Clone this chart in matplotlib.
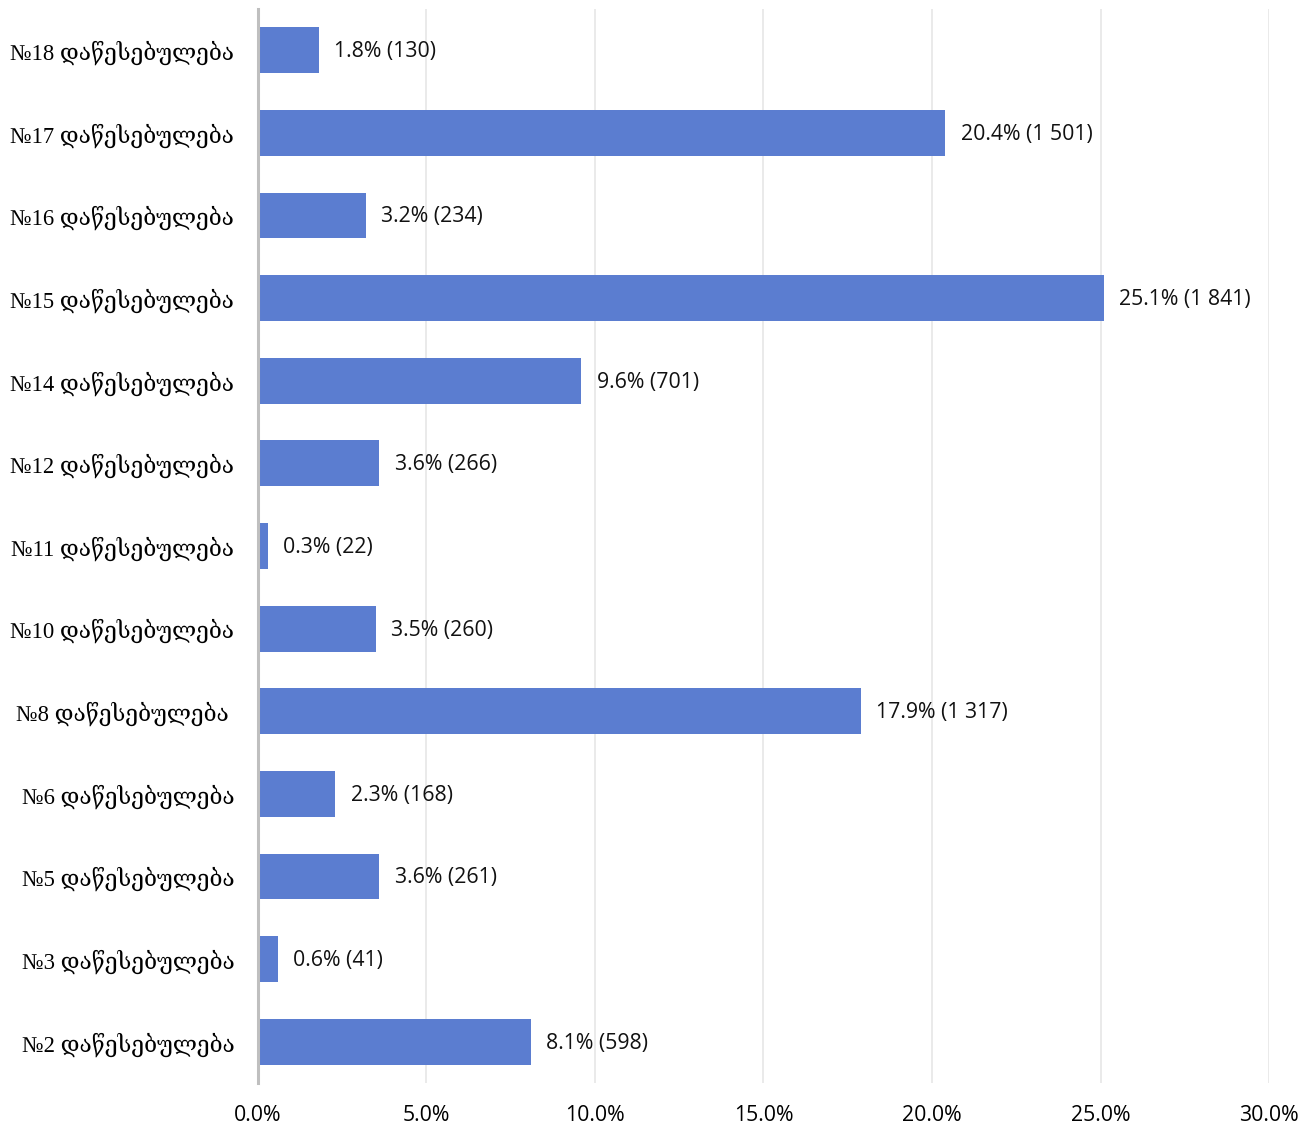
import matplotlib.pyplot as plt

# categories from top to bottom as in the picture
labels = ["№18 დაწესებულება", "№17 დაწესებულება", "№16 დაწესებულება",
          "№15 დაწესებულება", "№14 დაწესებულება", "№12 დაწესებულება",
          "№11 დაწესებულება", "№10 დაწესებულება", "№8 დაწესებულება ",
          "№6 დაწესებულება", "№5 დაწესებულება", "№3 დაწესებულება",
          "№2 დაწესებულება"]
percents = [1.8, 20.4, 3.2, 25.1, 9.6, 3.6, 0.3, 3.5, 17.9, 2.3, 3.6, 0.6, 8.1]
counts = ["130", "1 501", "234", "1 841", "701", "266", "22", "260",
          "1 317", "168", "261", "41", "598"]
xticks = [0, 5, 10, 15, 20, 25, 30]

fig = plt.figure(figsize=(13.16, 11.27), dpi=100)
ax = fig.add_axes([0.196, 0.039, 0.7683, 0.953])

pos = list(range(len(labels)))
ax.barh(pos, percents, height=0.555, color="#5B7DD0", zorder=3)
ax.set_ylim(len(labels) - 0.5, -0.5)
ax.set_xlim(0, 30)

for p, v, c in zip(pos, percents, counts):
    ax.annotate(f"{v:.1f}% ({c})", (v, p), xytext=(11, -1), textcoords="offset points",
                va="center", ha="left", fontsize=15.3, family=["Open Sans"], color="#111111")

ax.set_xticks(xticks)
ax.set_xticklabels([f"{t:.1f}%" for t in xticks], fontsize=15.3, family=["Open Sans"])
ax.set_yticks(pos)
ax.set_yticklabels(labels, fontsize=16.3, family=["Liberation Serif", "DejaVu Serif", "DejaVu Sans"])
ax.tick_params(length=0)
ax.tick_params(axis="x", pad=16)
ax.tick_params(axis="y", pad=17)

ax.grid(axis="x", color="#E6E6E6", linewidth=1.2, zorder=0)
for s in ["top", "right", "bottom"]:
    ax.spines[s].set_visible(False)
ax.spines["left"].set_color("#BFBFBF")
ax.spines["left"].set_linewidth(2.2)
ax.spines["left"].set_zorder(4)

plt.savefig("out.png", dpi=100)
